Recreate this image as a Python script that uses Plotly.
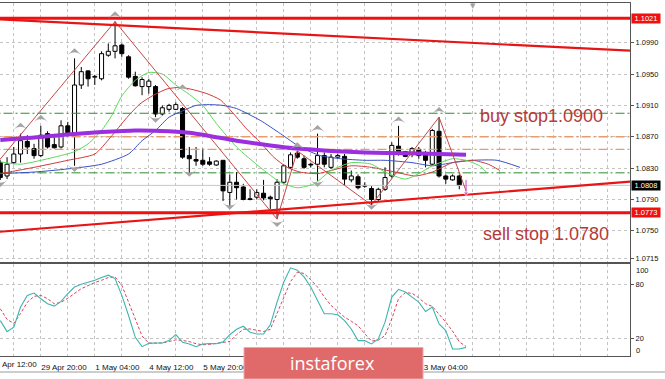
import plotly.graph_objects as go

# ---------------- data ----------------
bar_index = list(range(69))
open_ = [1.0837, 1.0820, 1.0837, 1.0848, 1.0864, 1.0855, 1.0846, 1.0874, 1.0860, 1.0857,
         1.0884, 1.0875, 1.0936, 1.0954, 1.0946, 1.0944, 1.0974, 1.0979, 1.0987, 1.0972,
         1.0947, 1.0934, 1.0934, 1.0934, 1.0899, 1.0905, 1.0905, 1.0906, 1.0846, 1.0841,
         1.0840, 1.0838, 1.0834, 1.0840, 1.0799, 1.0812, 1.0806, 1.0791, 1.0793, 1.0798,
         1.0793, 1.0790, 1.0812, 1.0831, 1.0849, 1.0842, 1.0835, 1.0835, 1.0846, 1.0831,
         1.0844, 1.0845, 1.0815, 1.0819, 1.0808, 1.0804, 1.0790, 1.0803, 1.0820, 1.0858,
         1.0851, 1.0848, 1.0854, 1.0849, 1.0835, 1.0877, 1.0820, 1.0815, 1.0820]
high = [1.0840, 1.0844, 1.0857, 1.0874, 1.0872, 1.0861, 1.0884, 1.0877, 1.0870, 1.0891,
        1.0889, 1.0970, 1.0959, 1.0955, 1.0949, 1.0979, 1.0989, 1.1017, 1.0989, 1.0974,
        1.0953, 1.0946, 1.0944, 1.0936, 1.0910, 1.0912, 1.0914, 1.0908, 1.0857, 1.0857,
        1.0855, 1.0844, 1.0840, 1.0840, 1.0822, 1.0825, 1.0810, 1.0803, 1.0803, 1.0815,
        1.0795, 1.0816, 1.0835, 1.0850, 1.0852, 1.0846, 1.0837, 1.0874, 1.0850, 1.0848,
        1.0848, 1.0848, 1.0827, 1.0822, 1.0812, 1.0807, 1.0805, 1.0831, 1.0863, 1.0884,
        1.0852, 1.0857, 1.0857, 1.0852, 1.0880, 1.0895, 1.0822, 1.0822, 1.0822]
low = [1.0815, 1.0816, 1.0835, 1.0837, 1.0848, 1.0842, 1.0844, 1.0855, 1.0855, 1.0855,
       1.0874, 1.0833, 1.0931, 1.0934, 1.0936, 1.0942, 1.0972, 1.0970, 1.0972, 1.0944,
       1.0934, 1.0923, 1.0925, 1.0895, 1.0897, 1.0902, 1.0904, 1.0842, 1.0823, 1.0833,
       1.0833, 1.0833, 1.0833, 1.0788, 1.0781, 1.0790, 1.0789, 1.0789, 1.0790, 1.0789,
       1.0778, 1.0765, 1.0810, 1.0829, 1.0842, 1.0829, 1.0831, 1.0814, 1.0831, 1.0829,
       1.0842, 1.0808, 1.0812, 1.0803, 1.0805, 1.0783, 1.0788, 1.0801, 1.0818, 1.0846,
       1.0844, 1.0844, 1.0842, 1.0831, 1.0833, 1.0818, 1.0810, 1.0814, 1.0803]
close = [1.0818, 1.0835, 1.0848, 1.0865, 1.0857, 1.0846, 1.0872, 1.0857, 1.0856, 1.0884,
         1.0875, 1.0936, 1.0953, 1.0944, 1.0947, 1.0976, 1.0979, 1.0986, 1.0976, 1.0946,
         1.0935, 1.0943, 1.0941, 1.0899, 1.0907, 1.0910, 1.0911, 1.0844, 1.0842, 1.0839,
         1.0835, 1.0835, 1.0839, 1.0801, 1.0812, 1.0805, 1.0790, 1.0790, 1.0799, 1.0792,
         1.0791, 1.0812, 1.0833, 1.0847, 1.0844, 1.0831, 1.0834, 1.0846, 1.0835, 1.0844,
         1.0846, 1.0816, 1.0820, 1.0805, 1.0807, 1.0790, 1.0803, 1.0818, 1.0859, 1.0848,
         1.0845, 1.0855, 1.0846, 1.0840, 1.0878, 1.0820, 1.0816, 1.0820, 1.0808]

# moving averages (sampled along the drawn curves)
ma_purple_x = [0, 5, 10, 15, 20, 25, 28, 31, 35, 40, 44, 49, 54, 60, 65, 69]
ma_purple_y = [1.0866, 1.0869, 1.0873, 1.0876, 1.0878, 1.0877, 1.0875, 1.0871, 1.0865,
               1.0859, 1.0855, 1.0852, 1.0850, 1.0849, 1.0848, 1.0847]
ma_green_x = [0, 3, 8, 11, 13, 15, 16.5, 18, 20, 22, 24, 26, 28, 30, 32, 35, 38.5, 41.5,
              44, 46.5, 49, 52, 55, 57, 60, 62, 64, 67, 69, 71, 72]
ma_green_y = [1.0838, 1.0835, 1.0844, 1.0851, 1.0861, 1.0878, 1.0897, 1.0922, 1.0942,
              1.0952, 1.0950, 1.0936, 1.0924, 1.0910, 1.0887, 1.0857, 1.0831, 1.0812,
              1.0805, 1.0810, 1.0827, 1.0837, 1.0835, 1.0825, 1.0816, 1.0823, 1.0833,
              1.0842, 1.0840, 1.0833, 1.0825]
ma_red_x = [0, 5, 10, 14, 16.3, 18.8, 20.7, 22.7, 24.7, 26.7, 28.6, 30.6, 32.6, 34.6, 36.5,
            38.5, 40.5, 42.5, 44.4, 47, 49, 52, 55, 58.5, 61.5, 64, 67, 70, 72.3, 74]
ma_red_y = [1.0823, 1.0831, 1.0840, 1.0848, 1.0869, 1.0895, 1.0912, 1.0923, 1.0931, 1.0933,
            1.0930, 1.0925, 1.0917, 1.0899, 1.0880, 1.0863, 1.0844, 1.0831, 1.0825, 1.0823,
            1.0827, 1.0833, 1.0831, 1.0825, 1.0820, 1.0825, 1.0837, 1.0840, 1.0835, 1.0827]
ma_blue_x = [0, 5, 10, 15, 19, 21, 23, 25, 27, 29, 31, 33, 35, 38.5, 41.5, 44.4, 47.4, 50.4,
             54, 57, 61, 64, 67, 70, 73.6, 77]
ma_blue_y = [1.0823, 1.0825, 1.0829, 1.0835, 1.0848, 1.0865, 1.0878, 1.0895, 1.0903, 1.0910,
             1.0911, 1.0910, 1.0906, 1.0891, 1.0874, 1.0857, 1.0846, 1.0842, 1.0840, 1.0840,
             1.0837, 1.0833, 1.0837, 1.0840, 1.0840, 1.0831]

zigzag_x = [-2, 17, 41, 44, 55, 65, 69]
zigzag_y = [1.0821, 1.1017, 1.0765, 1.0852, 1.0783, 1.0895, 1.0801]

fractal_up_x = [3, 6, 11, 17, 27, 44, 47, 59, 65]
fractal_up_y = [1.0888, 1.0898, 1.0983, 1.1030, 1.0937, 1.0863, 1.0885, 1.0896, 1.0908]
fractal_dn_x = [0, 11, 23, 28, 34, 41, 47, 55]
fractal_dn_y = [1.0806, 1.0825, 1.0888, 1.0819, 1.0777, 1.0755, 1.0806, 1.0777]

current_x = [69, 69]
current_y = [1.0815, 1.0798]

trend_down_x = [-1, 94]
trend_down_y = [1.10200, 1.09795]
trend_up_x = [-1, 94]
trend_up_y = [1.07482, 1.08132]

red_levels = [1.1021, 1.0773]
green_levels = [1.0900, 1.0824]
orange_levels = [1.0870, 1.0854]
bid_price = 1.0808

price_ticks = [1.0990, 1.0950, 1.0910, 1.0870, 1.0830, 1.0790, 1.0750, 1.0715]

stoch_x = list(range(70))
stoch_k = [39.7, 27.4, 32.3, 54.7, 67.7, 70.3, 64.0, 58.4, 55.8, 61.0,
           69.6, 77.0, 80.0, 81.9, 84.5, 87.5, 90.1, 86.3, 67.7, 45.3,
           21.1, 10.7, 14.4, 14.8, 14.8, 17.4, 24.1, 15.5, 13.7, 10.7,
           13.7, 14.2, 14.0, 16.0, 24.0, 30.0, 33.4, 26.7, 24.8, 24.8,
           35.0, 60.2, 82.6, 98.3, 95.7, 88.2, 77.0, 62.1, 47.2, 47.2,
           46.1, 39.7, 30.4, 17.4, 17.4, 13.7, 19.2, 37.9, 65.8, 74.4,
           71.4, 65.8, 60.2, 49.8, 54.7, 36.0, 28.6, 8.1, 8.1, 9.9]
stoch_d = [52.8, 41.0, 36.5, 47.5, 60.0, 66.6, 67.7, 64.0, 58.4, 60.0,
           64.5, 69.6, 75.2, 78.5, 82.0, 84.5, 87.5, 88.2, 78.9, 60.2,
           41.6, 22.5, 14.6, 14.4, 14.8, 16.5, 18.2, 17.6, 16.3, 14.0,
           12.8, 13.3, 14.3, 15.0, 16.5, 24.0, 30.0, 30.4, 29.0, 27.5,
           30.0, 48.0, 65.0, 83.0, 93.5, 92.0, 85.0, 77.0, 66.0, 56.5,
           50.0, 43.5, 39.0, 34.0, 25.0, 17.0, 18.0, 23.0, 41.6, 64.0,
           70.7, 70.0, 65.0, 58.4, 55.5, 47.0, 38.0, 28.0, 16.0, 11.0]
stoch_levels = [80, 20]

grid_bars = list(range(2, 93, 4))
# time labels that are visible (others are hidden under the watermark)
time_label_bars = [6, 14, 22, 30, 62]
time_labels = ["29 Apr 20:00", "1 May 04:00", "4 May 12:00", "5 May 20:00", "13 May 04:00"]
first_time_label = "Apr 12:00"

# ---------------- figure ----------------
W, H = 665, 379
XD = 630 / W
X_RANGE = [-0.044, 93.29]
Y_RANGE = [1.07103, 1.10406]
S_RANGE = [0.33, 102.56]
FONT = "Liberation Sans, Arial, sans-serif"

fig = go.Figure()

# candle bodies
body_base = [min(o, c) for o, c in zip(open_, close)]
body_h = [max(abs(c - o), 0.00003) for o, c in zip(open_, close)]
body_col = ["#ffffff" if c >= o else "#000000" for o, c in zip(open_, close)]
fig.add_trace(go.Bar(x=bar_index, y=body_h, base=body_base, width=0.6,
                     marker=dict(color=body_col, line=dict(color="#000000", width=1)),
                     xaxis="x", yaxis="y", hoverinfo="skip"))

# wicks (split so they do not cross the bodies)
wx, wy = [], []
for i, o, h, l, c in zip(bar_index, open_, high, low, close):
    top, bot = max(o, c), min(o, c)
    if h > top:
        wx += [i, i, None]; wy += [h, top, None]
    if l < bot:
        wx += [i, i, None]; wy += [bot, l, None]
fig.add_trace(go.Scatter(x=wx, y=wy, mode="lines", line=dict(color="#000000", width=1),
                         xaxis="x", yaxis="y", hoverinfo="skip"))

def hline(level, color, width, dash="solid"):
    fig.add_trace(go.Scatter(x=[X_RANGE[0] - 2, X_RANGE[1] + 2], y=[level, level], mode="lines",
                             line=dict(color=color, width=width, dash=dash),
                             xaxis="x", yaxis="y", hoverinfo="skip"))

hline(bid_price, "#c8c8c8", 1)
for lv in orange_levels:
    hline(lv, "#eb9a6a", 1.3, "9px,3px,2px,3px")
for lv in green_levels:
    hline(lv, "#2f8a2f", 1, "9px,3px,2px,3px")

# moving averages
for xs, ys, col, wd in [(ma_blue_x, ma_blue_y, "#3a4fc2", 1),
                        (ma_red_x, ma_red_y, "#d23a3a", 1),
                        (ma_green_x, ma_green_y, "#5ad85a", 1),
                        (ma_purple_x, ma_purple_y, "#9b2fe0", 4)]:
    fig.add_trace(go.Scatter(x=xs, y=ys, mode="lines", line=dict(color=col, width=wd, shape="spline", smoothing=0.6),
                             xaxis="x", yaxis="y", hoverinfo="skip"))

# zigzag
fig.add_trace(go.Scatter(x=zigzag_x, y=zigzag_y, mode="lines", line=dict(color="#c44848", width=1),
                         xaxis="x", yaxis="y", hoverinfo="skip"))

# trend lines and levels
for xs, ys in [(trend_down_x, trend_down_y), (trend_up_x, trend_up_y)]:
    fig.add_trace(go.Scatter(x=xs, y=ys, mode="lines", line=dict(color="#e81515", width=2.2),
                             xaxis="x", yaxis="y", hoverinfo="skip"))
for lv in red_levels:
    hline(lv, "#f01010", 3)

# fractal arrows
fig.add_trace(go.Scatter(x=fractal_up_x, y=fractal_up_y, mode="markers",
                         marker=dict(symbol="arrow-wide", size=10, color="#a4a4a4", angle=0,
                                     line=dict(width=0)),
                         xaxis="x", yaxis="y", hoverinfo="skip"))
fig.add_trace(go.Scatter(x=fractal_dn_x, y=fractal_dn_y, mode="markers",
                         marker=dict(symbol="arrow-wide", size=10, color="#a4a4a4", angle=180,
                                     line=dict(width=0)),
                         xaxis="x", yaxis="y", hoverinfo="skip"))

# current bar marker
fig.add_trace(go.Scatter(x=current_x, y=current_y, mode="lines+markers",
                         line=dict(color="#c040c8", width=1),
                         marker=dict(symbol=["line-ew", "triangle-down"], size=[0, 5], color="#c040c8"),
                         xaxis="x", yaxis="y", hoverinfo="skip"))

# stochastic
fig.add_trace(go.Scatter(x=stoch_x, y=stoch_d, mode="lines", line=dict(color="#e0405a", width=1, dash="3px,2px"),
                         xaxis="x2", yaxis="y2", hoverinfo="skip"))
fig.add_trace(go.Scatter(x=stoch_x, y=stoch_k, mode="lines", line=dict(color="#3db5ae", width=1.1),
                         xaxis="x2", yaxis="y2", hoverinfo="skip"))

grid_text = []
for b in grid_bars:
    grid_text.append(time_labels[time_label_bars.index(b)] if b in time_label_bars else "")

common_x = dict(domain=[0, XD], range=X_RANGE, tickmode="array", tickvals=grid_bars,
                showgrid=True, gridcolor="#c4c4c4", griddash="dot", gridwidth=1,
                zeroline=False, showline=True, mirror=True, linecolor="#555555", linewidth=1,
                ticks="", fixedrange=True, automargin=False, tickangle=0)

fig.update_layout(
    width=W, height=H, margin=dict(l=0, r=0, t=0, b=0, autoexpand=False),
    paper_bgcolor="#ffffff", plot_bgcolor="#ffffff",
    showlegend=False, hovermode=False, barmode="overlay",
    font=dict(family=FONT, color="#111111"),
    xaxis=dict(**common_x, anchor="y", showticklabels=False),
    yaxis=dict(domain=[1 - 262 / H, 1 - 3 / H], range=Y_RANGE, side="right", anchor="x",
               tickmode="array", tickvals=price_ticks, ticktext=[f"{v:.4f}" for v in price_ticks],
               tickfont=dict(size=7.5, family=FONT, color="#111111"),
               ticks="outside", ticklen=3, tickcolor="#555555",
               showgrid=True, gridcolor="#c4c4c4", griddash="dot", zeroline=False,
               showline=True, linecolor="#555555", linewidth=1, automargin=False),
    xaxis2=dict(**common_x, anchor="y2", matches="x", showticklabels=True, ticktext=grid_text,
                ticklabelposition="outside right", ticklabelstandoff=3,
                tickfont=dict(size=8, family=FONT, color="#111111")),
    yaxis2=dict(domain=[1 - 356 / H, 1 - 264 / H], range=S_RANGE, side="right", anchor="x2",
                tickmode="array", tickvals=stoch_levels, ticktext=[str(v) for v in stoch_levels],
                tickfont=dict(size=7.5, family=FONT, color="#111111"),
                ticks="outside", ticklen=3, tickcolor="#555555",
                showgrid=True, gridcolor="#c4c4c4", griddash="dot", zeroline=False,
                showline=True, linecolor="#555555", linewidth=1, automargin=False),
)

ann = []
# price boxes on the right scale
for lv, bg in [(red_levels[0], "#f01010"), (red_levels[1], "#f01010"), (bid_price, "#000000")]:
    ann.append(dict(xref="paper", x=631 / W, xanchor="left", yref="y", y=lv, yanchor="middle",
                    text=f"{lv:.4f}", showarrow=False, bgcolor=bg, borderpad=0, width=28,
                    font=dict(size=7.5, color="#ffffff", family=FONT)))
# stochastic edge labels
ann.append(dict(xref="paper", x=634 / W, xanchor="left", yref="paper", y=1 - 270 / H, yanchor="middle",
                text="100", showarrow=False, font=dict(size=7.5, color="#111111", family=FONT)))
ann.append(dict(xref="paper", x=634 / W, xanchor="left", yref="paper", y=1 - 350 / H, yanchor="middle",
                text="0", showarrow=False, font=dict(size=7.5, color="#111111", family=FONT)))
# first (partly visible) time label
ann.append(dict(xref="paper", x=0, xanchor="left", yref="paper", y=1 - 364 / H, yanchor="middle",
                text=first_time_label, showarrow=False, font=dict(size=8, color="#111111", family=FONT)))
# order texts
ann.append(dict(xref="paper", x=541.7 / W, xanchor="center", yref="paper", y=1 - 115.5 / H, yanchor="middle",
                text="buy stop1.0900", showarrow=False, font=dict(size=18, color="#b73a3a", family=FONT)))
ann.append(dict(xref="paper", x=545.8 / W, xanchor="center", yref="paper", y=1 - 234.4 / H, yanchor="middle",
                text="sell stop 1.0780", showarrow=False, font=dict(size=18, color="#b73a3a", family=FONT)))
# chart-shift marker
ann.append(dict(xref="paper", x=473 / W, xanchor="center", yref="paper", y=1 - 6 / H, yanchor="middle",
                text="\u25bc", showarrow=False, font=dict(size=7, color="#a0a0a0", family="DejaVu Sans")))
# watermark text
ann.append(dict(xref="paper", x=332 / W, xanchor="center", yref="paper", y=1 - 362.5 / H, yanchor="middle",
                text="instaforex", showarrow=False, font=dict(size=18, color="#ffffff", family="Open Sans")))
fig.update_layout(annotations=ann)

fig.update_layout(shapes=[
    dict(type="line", xref="paper", yref="paper", x0=0, x1=1, y0=1 - 372 / H, y1=1 - 372 / H,
         line=dict(color="#9a9a9a", width=1), layer="above"),
    dict(type="rect", xref="paper", yref="paper", x0=244 / W, x1=423 / W, y0=0, y1=1 - 347.5 / H,
         fillcolor="#e06a6a", line=dict(color="#f0a6a6", width=1), layer="above"),
])

fig.write_html("out.html")
